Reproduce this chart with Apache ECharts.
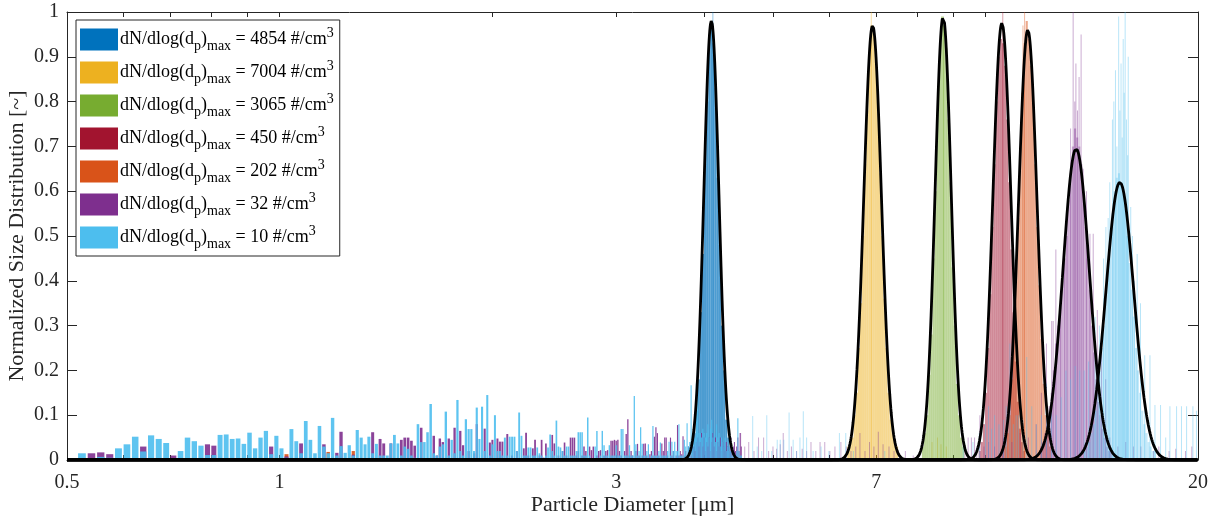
<!DOCTYPE html>
<html>
<head>
<meta charset="utf-8">
<script src="https://cdn.jsdelivr.net/npm/echarts@6/dist/echarts.min.js"></script>
<style>
  html, body { margin: 0; padding: 0; background: #fff; }
  #chart { width: 1217px; height: 518px; }
</style>
</head>
<body>
<div id="chart"></div>
<script>
// ---- Particle counter channels (µm) ----
const channelStart = 0.525;
const channelStep = 0.0166;

// ---- Samples ----
const seriesPeak = [4854, 7004, 3065, 450, 202, 32, 10];            // dN/dlog(dp) max, #/cm^3
const seriesColor = ['#0072BD', '#EDB120', '#77AC30', '#A2142F', '#D95319', '#7E2F8E', '#4DBEEE'];

// ---- Axis ticks ----
const xTickMarks = [0.5, 0.6, 0.7, 0.8, 0.9, 1, 2, 3, 4, 5, 6, 7, 8, 9, 10, 20];
const xTickLabels = [0.5, 1, 3, 7, 20];

// ---- Low-count channels, normalised height per channel (from channelStart) ----
const purpleLow = [
  0, .015, .017, .013, 0, 0, 0, .030, 0, 0, 0, .010, 0, 0, 0, 0, .035, .032, 0, 0,
  0, 0, 0, 0, 0, 0, 0, .030, 0, 0, .008, 0, 0, .037, 0, 0, 0, 0, .035, 0,
  0, .016, .063, 0, 0, .012, 0, 0, 0, 0, .062, 0, .047, .037, 0, .037, 0, 0, .045, .050,
  .050, .043, .032, 0, .072, 0, 0, 0, .054, .010, .048, .040, 0, .048, 0, .072, 0, .065, .033, 0,
  .020, 0, .015, .080, 0, 0, .070, 0, .039, .045, 0, .048, .041, .041, 0, .058, 0, .010, 0, .020,
  0, 0, .026, .061, .010, 0, .026, .045, 0, .010, .045, .005, .037, 0, 0, .056, .037, 0, .010, 0,
  .020, .039, .010, 0, .050, .050, .050, .010, .020, 0, .010, .030, .020, 0, .030, .022, .030, 0, .010, .020,
  .022, 0, .010, .020, .022, 0, .043, .043, .045, .043, .045, .020, .010, 0, .020, .058, .091, .010, .020, .010,
  0, .020, .036, .010, 0, .010, .036, .037, .010, 0, .013, .020, .010, .052, .073, .060, .010, 0, .037, .020,
  .050, .050, .010, 0, .050, .010, .020, 0, .010, .078, .010, .020, .013, .053, .010, .020, 0, .030, .020, .010,
  .045, .030, .020, .040, .050, .030, .040, .060, .030, .050, .020, .040, .030, .050, .020, .040, .060, .030, .050, .020,
  .040, .030, .050, .020, .040, .030, .020, .040, .030, .020, .030, .050, .020, .030, .040, .020, .030, .050, .020, .060,
  .030
];
const lightBlueLow = [
  .015, .003, .007, .005, .026, .035, .052, .019, .055, .047, .038, 0, .020, .050, .042, .032, .011, .011, .056, .057,
  .047, .048, .036, .061, .026, .050, .065, .013, .054, .026, .005, .069, .042, .015, .087, .045, .015, .076, .030, .015,
  .094, .010, .031, .016, .033, .010, .067, .050, .035, .052, .015, .036, .010, .010, .010, .037, .056, .037, .010, .030,
  .025, .010, .005, .080, .040, .040, .062, .125, .015, .010, .030, .035, .108, .010, .045, .015, .134, .020, .010, .091,
  .069, .069, .020, .117, .047, .119, .020, .145, .010, .035, .100, .020, .020, .010, .050, .010, .052, .052, .052, .020,
  .106, .054, .010, .010, .028, .028, .010, .010, .028, .015, .010, .005, .010, .028, .057, .020, .010, .088, .030, .028,
  .020, .010, .030, .030, .010, .010, .010, .020, .062, .062, .062, .010, .010, .095, .010, 0, 0, .030, .065, .005,
  .010, .065, .033, .010, .010, .033, .010, .010, .010, .033, .010, .010, .069, .069, .010, .010, .010, .033, .010, .010,
  .143, .035, .010, .020, .073, .036, .010, .010, .020, .035, .005, .010, .076, .010, .010, .010, .020, .039, .010, .010,
  .010, .010, .020, .041, .010, .041, .020, .041, .020, .020, .080, .010, .010, .010, .045, .030, .082, .030, .040, .167,
  .040, .050, .050, .171, .190, .060, .060, .050, .070, .060, .050, .060, .080, .050, .070, .090, .050, .060, .040, .080,
  .050, .060, .030, .050, .040, .030, .050, .020, .030, .020, .030, .020, .010, .020, .010, .010, .020, .093, .020, .010,
  .010
];
const orangeLow = [[1.023, .013], [1.172, .018], [1.272, .020], [2.70, .006]];

// ---- Histogram bodies: lower edge of first bin (µm), heights in log-spaced bins ----
const bodyBinLog = 0.003;
const bodyStart = [3.831, 6.371, 8.128, 9.779, 10.64, 11.95, 13.79];
const blueBody = [.03, .06, .11, .18, .33, .46, .66, .80, .95, .97, .93, .83, .63, .48, .30, .20, .09, .05, .02];
const yellowBody = [.03, .04, .05, .10, .15, .25, .35, .50, .66, .78, .91, .97, .95, .89, .80, .64, .50, .36, .25, .15, .09, .06, .04, .03];
const greenBody = [.03, .06, .10, .19, .28, .45, .60, .78, .90, .99, .97, .92, .76, .62, .43, .30, .17, .10, .05, .03];
const redBody = [.02, .04, .08, .15, .25, .37, .52, .66, .80, .90, .94, .93, .88, .76, .62, .47, .33, .22, .13, .07, .04, .02];
const orangeBody = [.03, .06, .10, .18, .28, .40, .54, .70, .82, .93, .98, .94, .88, .80, .66, .52, .39, .27, .17, .10, .06, .03];
const purpleBody = [.03, .04, .06, .08, .12, .15, .20, .26, .30, .34, .40, .45, .50, .58, .64, .70, .74, .72, .70, .66,
  .60, .52, .45, .38, .30, .24, .18, .13, .10, .07, .05, .03, .02, .02];
const lightBlueBody = [.02, .03, .04, .06, .08, .11, .15, .20, .25, .30, .38, .44, .50, .55, .60, .63, .64, .62, .60, .56,
  .50, .44, .38, .32, .25, .20, .15, .11, .08, .06, .04, .03, .02, .02];

// ---- Isolated channels: [diameter µm, height] ----
const blueSpikes = [[4.11, 1.0]];
const yellowSpikes = [[6.89, 1.0], [8.40, .04], [8.55, .05], [8.65, .035], [8.80, .03]];
const greenSpikes = [[8.72, .99]];
const redSpikes = [[10.58, 1.0]];
const orangeSpikes = [[11.30, .97], [11.36, 1.0]];
const purpleSpikes = [
  [4.50, .06], [4.56, .03], [4.62, .04], [4.70, .02], [4.77, .05], [4.85, .05], [4.93, .02], [5.00, .03], [5.06, .025], [5.12, .035],
  [5.17, .06], [5.24, .02], [5.31, .03], [5.40, .02], [5.50, .025], [5.58, .02], [5.66, .04], [5.75, .02], [5.83, .04], [5.92, .04],
  [6.02, .02], [6.12, .03], [6.24, .04], [6.35, .03], [6.45, .02], [6.55, .03], [6.64, .06], [6.75, .02], [6.85, .04], [6.95, .03],
  [7.05, .063], [7.16, .035], [7.30, .03], [7.42, .02], [7.56, .015], [7.70, .02], [7.90, .01], [9.35, .02], [9.45, .05], [9.55, .05],
  [9.65, .05], [9.72, .03], [9.82, .10], [9.95, .03], [10.1, .04], [10.3, .03], [10.6, .05], [10.9, .04], [11.2, .06], [11.5, .05],
  [11.8, .08], [12.0, .15], [12.20, .26], [12.41, .31], [12.47, .31], [12.58, .47], [12.78, .38], [12.95, .45], [13.05, .55], [13.20, .74],
  [13.31, 1.0], [13.38, .80], [13.43, .885], [13.50, .78], [13.57, .855], [13.66, .95], [13.75, .65], [13.90, .60], [14.06, .505], [14.21, .505],
  [14.40, .335], [14.60, .25], [14.80, .18], [15.0, .05], [15.4, .03], [15.8, .04], [16.2, .03], [16.6, .03], [17.3, .02], [17.6, .03],
  [18.2, .02], [18.6, .025], [19.2, .02], [19.6, .03]
];
const lightBlueSpikes = [
  [4.68, .098], [4.75, .03], [4.82, .02], [4.90, .10], [4.98, .02], [5.07, .045], [5.12, .045], [5.18, .045], [5.27, .106], [5.34, .045],
  [5.40, .02], [5.46, .05], [5.52, .109], [5.58, .05], [5.70, .02], [5.85, .03], [6.00, .02], [6.21, .06], [6.34, .06], [6.50, .02],
  [7.2, .02], [9.3, .03], [9.6, .04], [9.8, .06], [10.0, .08], [10.1, .12], [10.2, .07], [10.3, .10], [10.45, .08], [10.6, .09],
  [10.7, .12], [10.83, .26], [10.95, .08], [11.05, .10], [11.13, .10], [11.3, .09], [11.44, .23], [11.63, .12], [11.8, .08], [12.0, .10],
  [12.2, .17], [12.4, .12], [12.6, .10], [12.8, .14], [13.0, .20], [13.2, .18], [13.4, .21], [13.6, .20], [13.8, .20], [14.0, .22],
  [14.30, .32], [14.5, .30], [14.7, .45], [14.81, .52], [14.92, .54], [15.0, .62], [15.13, .76], [15.2, .80], [15.28, .87], [15.35, .70],
  [15.44, .99], [15.5, .78], [15.56, .885], [15.62, .72], [15.67, .94], [15.72, .82], [15.77, 1.0], [15.84, .76], [15.9, .68], [15.93, .90],
  [16.06, .565], [16.15, .50], [16.25, .40], [16.40, .46], [16.58, .35], [16.81, .234], [17.1, .234], [17.38, .123], [17.7, .123], [18.0, .05],
  [18.25, .12], [18.65, .12], [18.95, .12], [19.27, .12], [19.67, .12], [19.9, .11]
];

// ---- Lognormal fits: mode diameter (µm), width (log10 units), peak height ----
const fitMode = [4.09, 6.92, 8.71, 10.55, 11.48, 13.44, 15.50];
const fitWidth = [0.0107, 0.0125, 0.0114, 0.0127, 0.0130, 0.0188, 0.0198];
const fitHeight = [0.98, 0.97, 0.99, 0.975, 0.96, 0.695, 0.62];

// ---------------------------------------------------------------
const SERIF = '"Liberation Serif", "Times New Roman", serif';
const INK = '#262626';
const xMin = Math.log10(0.5), xMax = Math.log10(20);

const bodyOpacity = [0.7, 0.5, 0.5, 0.5, 0.5, 0.38, 0.32];
const lowOpacity = 0.9, spikeOpacity = 0.4;
const halfChannel = channelStep * 0.4;

function channelBars(values, op) {
  const out = [];
  values.forEach((h, i) => {
    if (h <= 0) return;
    const d = channelStart + i * channelStep;
    out.push([Math.log10(d - halfChannel), Math.log10(d + halfChannel), h, op]);
  });
  return out;
}
function pointBars(list, op) {
  return list.map(([d, h]) => [Math.log10(d - halfChannel), Math.log10(d + halfChannel), h, op]);
}
function bodyBars(start, values, op) {
  const s = Math.log10(start);
  return values.map((h, k) => [s + k * bodyBinLog, s + (k + 1) * bodyBinLog, h, op]);
}

const bodies = [blueBody, yellowBody, greenBody, redBody, orangeBody, purpleBody, lightBlueBody];
const spikes = [blueSpikes, yellowSpikes, greenSpikes, redSpikes, orangeSpikes, purpleSpikes, lightBlueSpikes];
const lows = [[], [], [], [], null, purpleLow, lightBlueLow];

const names = seriesPeak.map(v => 'dN/dlog(dp)max = ' + v + ' #/cm3');

function renderBar(params, api) {
  const lo = api.value(0), hi = api.value(1), h = api.value(2), op = api.value(3);
  const a = api.coord([lo, h]);
  const b = api.coord([hi, 0]);
  let x = a[0], w = b[0] - a[0];
  if (w < 1) { x = (a[0] + b[0]) / 2 - 0.5; w = 1; }
  return {
    type: 'rect',
    shape: { x: x, y: a[1], width: w, height: b[1] - a[1] },
    style: { fill: api.visual('color'), opacity: op }
  };
}

const series = [];
names.forEach((name, k) => {
  let data = bodyBars(bodyStart[k], bodies[k], bodyOpacity[k]);
  data = data.concat(pointBars(spikes[k], spikeOpacity));
  if (k === 4) data = data.concat(pointBars(orangeLow, lowOpacity));
  else if (lows[k] && lows[k].length) data = data.concat(channelBars(lows[k], lowOpacity));
  series.push({
    name: name,
    type: 'custom',
    renderItem: renderBar,
    dimensions: ['lo', 'hi', 'h', 'op'],
    encode: { x: [0, 1], y: 2 },
    itemStyle: { color: seriesColor[k] },
    data: data,
    clip: true,
    silent: true,
    z: 2
  });
});

function fitCurve(k) {
  const pts = [];
  const m = Math.log10(fitMode[k]), s = fitWidth[k];
  for (let x = xMin; x <= xMax + 1e-9; x += 0.0005) {
    const z = (x - m) / s;
    pts.push([x, fitHeight[k] * Math.exp(-0.5 * z * z)]);
  }
  return pts;
}
fitMode.forEach((_, k) => {
  series.push({
    name: 'fit' + k,
    type: 'line',
    data: fitCurve(k),
    showSymbol: false,
    symbol: 'none',
    lineStyle: { color: '#000', width: 2.8 },
    silent: true,
    clip: true,
    z: 5
  });
});

const xTickValues = xTickMarks.map(Math.log10);
const xLabelValues = xTickLabels.map(Math.log10);

const xCommon = {
  type: 'value', min: xMin, max: xMax,
  axisLine: { show: true, onZero: false, lineStyle: { color: INK, width: 1 } },
  axisTick: { show: true, inside: true, length: 5, customValues: xTickValues, lineStyle: { color: INK, width: 1 } },
  splitLine: { show: false }
};
const yCommon = {
  type: 'value', min: 0, max: 1, interval: 0.1,
  axisLine: { show: true, onZero: false, lineStyle: { color: INK, width: 1 } },
  axisTick: { show: true, inside: true, length: 10, lineStyle: { color: INK, width: 1 } },
  splitLine: { show: false }
};

const option = {
  animation: false,
  backgroundColor: '#fff',
  grid: { left: 67, right: 19, top: 12, bottom: 58, containLabel: false, outerBoundsMode: 'none' },
  xAxis: [
    Object.assign({}, xCommon, {
      position: 'bottom',
      axisLabel: {
        customValues: xLabelValues,
        formatter: v => String(+Math.pow(10, v).toPrecision(2)),
        fontFamily: SERIF, fontSize: 20, color: INK, margin: 13
      },
      name: 'Particle Diameter [μm]',
      nameLocation: 'middle', nameGap: 34, nameMoveOverlap: false,
      nameTextStyle: { fontFamily: SERIF, fontSize: 22, color: INK }
    }),
    Object.assign({}, xCommon, { position: 'top', axisLabel: { show: false } })
  ],
  yAxis: [
    Object.assign({}, yCommon, {
      position: 'left',
      axisLabel: { fontFamily: SERIF, fontSize: 20, color: INK, margin: 8 },
      name: 'Normalized Size Distribution [~]',
      nameLocation: 'middle', nameGap: 39, nameMoveOverlap: false,
      nameTextStyle: { fontFamily: SERIF, fontSize: 22, color: INK }
    }),
    Object.assign({}, yCommon, { position: 'right', axisLabel: { show: false } })
  ],
  legend: {
    data: names,
    orient: 'vertical',
    left: 76, top: 20,
    icon: 'rect',
    itemWidth: 38, itemHeight: 22, itemGap: 6,
    padding: [6, 6, 5, 4],
    backgroundColor: '#fff',
    borderColor: INK, borderWidth: 1, borderRadius: 0,
    selectedMode: false,
    formatter: name => {
      const v = seriesPeak[names.indexOf(name)];
      return 'dN/dlog(d{s|p}){s|max} = ' + v + ' #/cm{u|3}';
    },
    textStyle: {
      fontFamily: SERIF, fontSize: 18, color: '#000', padding: [0, 0, 0, -3],
      rich: {
        s: { fontFamily: SERIF, fontSize: 14, lineHeight: 14, color: '#000', padding: [13, 0, 0, 0] },
        u: { fontFamily: SERIF, fontSize: 14, lineHeight: 14, color: '#000', padding: [0, 0, 13, 0] }
      }
    }
  },
  series: series
};

const chart = echarts.init(document.getElementById('chart'), null, { renderer: 'canvas' });
chart.setOption(option);
</script>
</body>
</html>
